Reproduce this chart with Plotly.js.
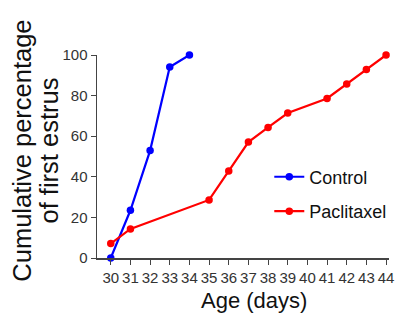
<!DOCTYPE html>
<html><head><meta charset="utf-8">
<script src="https://cdn.plot.ly/plotly-3.0.1.min.js"></script>
<style>html,body{margin:0;padding:0;background:#fff}#c{width:398px;height:313px}</style>
</head><body><div id="c"></div>
<script>
const controlAge = [30, 31, 32, 33, 34];
const controlPct = [0, 23.5, 52.9, 94.1, 100];
const paclAge = [30, 31, 35, 36, 37, 38, 39, 41, 42, 43, 44];
const paclPct = [7.1, 14.3, 28.6, 42.9, 57.1, 64.3, 71.4, 78.6, 85.7, 92.9, 100];
const xTicks = [30,31,32,33,34,35,36,37,38,39,40,41,42,43,44];
const yTicks = [0,20,40,60,80,100];
const yTitleLines = ['Cumulative percentage', 'of first estrus'];
const xTitle = 'Age (days)';
const font = "Liberation Sans, Arial, Helvetica, sans-serif";
const data = [
  {x: controlAge, y: controlPct, name: 'Control', legendgroup: 'a', mode: 'lines+markers', type: 'scatter',
   line: {color: '#0000ff', width: 2.2}, marker: {color: '#0000ff', size: 7.5}, cliponaxis: false},
  {x: paclAge, y: paclPct, name: 'Paclitaxel', legendgroup: 'b', mode: 'lines+markers', type: 'scatter',
   line: {color: '#ff0000', width: 2.2}, marker: {color: '#ff0000', size: 7.5}, cliponaxis: false}
];
const tfont = {size: 25.5, color: '#111', family: font};
const layout = {
  width: 398, height: 313,
  margin: {l: 97, r: 6, t: 55, b: 55},
  paper_bgcolor: '#fff', plot_bgcolor: '#fff',
  font: {family: font, color: '#222'},
  showlegend: true,
  legend: {x: 0.59, y: 0.315, xanchor: 'left', yanchor: 'middle', font: {size: 18, color: '#111', family: font},
           bgcolor: 'rgba(0,0,0,0)', tracegroupgap: 8},
  xaxis: {range: [29.3, 44.15], tickvals: xTicks, ticktext: xTicks.map(String), showgrid: false, zeroline: false,
          automargin: false, tickangle: 0,
          showline: true, linecolor: '#444', linewidth: 1.5, ticks: 'outside', ticklen: 5, tickcolor: '#444',
          tickfont: {size: 15, color: '#333', family: font}},
  yaxis: {range: [0, 100], tickvals: yTicks, showgrid: false, zeroline: false, automargin: false,
          showline: true, linecolor: '#444', linewidth: 1.5, ticks: 'outside', ticklen: 5, tickcolor: '#444',
          tickfont: {size: 15, color: '#333', family: font}},
  annotations: [
    {text: yTitleLines[0], xref: 'paper', yref: 'paper', x: -0.258, y: 0.527, xanchor: 'center', yanchor: 'middle',
     textangle: -90, showarrow: false, font: tfont},
    {text: yTitleLines[1], xref: 'paper', yref: 'paper', x: -0.166, y: 0.527, xanchor: 'center', yanchor: 'middle',
     textangle: -90, showarrow: false, font: tfont},
    {text: xTitle, xref: 'paper', yref: 'paper', x: 0.539, y: -0.207, xanchor: 'center', yanchor: 'middle',
     showarrow: false, font: {size: 22, color: '#111', family: font}}
  ]
};
Plotly.newPlot('c', data, layout, {displayModeBar: false, staticPlot: true});
</script></body></html>
